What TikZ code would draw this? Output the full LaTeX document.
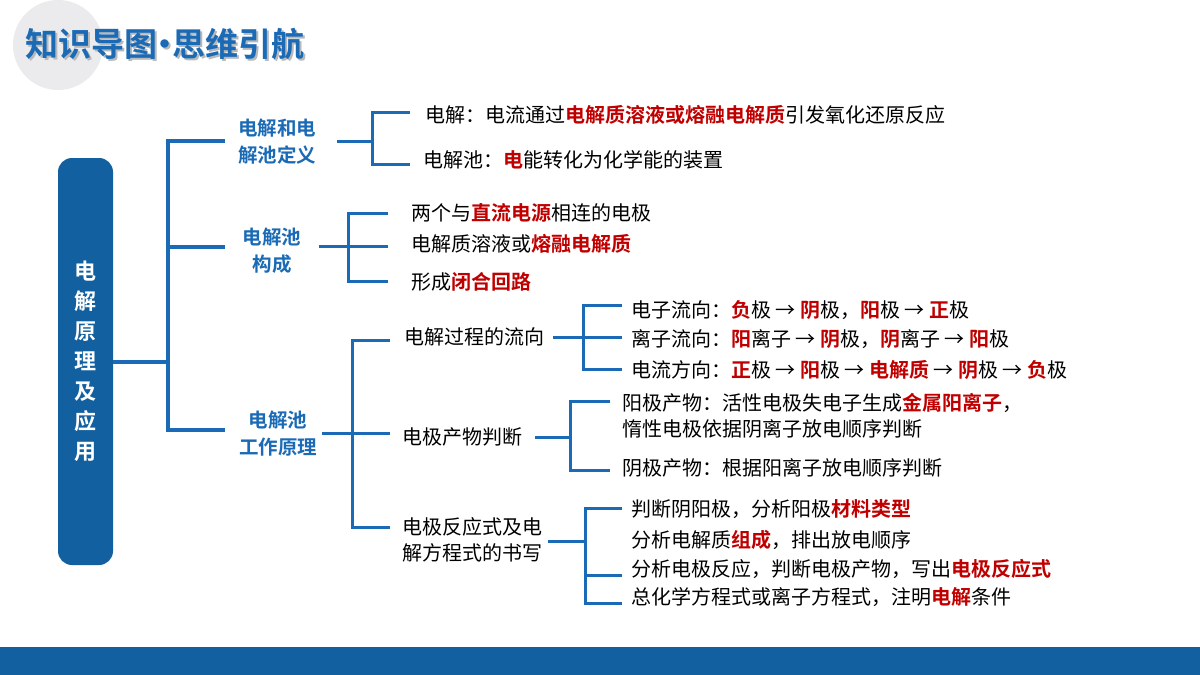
\documentclass[tikz,border=0pt]{standalone}
\usepackage{fontspec}
\setmainfont{Noto Sans CJK SC}
\newfontfamily\cjkb{Noto Sans CJK SC Bold}
\definecolor{lblue}{HTML}{1A6AB5}
\definecolor{dblue}{HTML}{12609F}
\definecolor{rr}{HTML}{C00000}
\newcommand{\R}[1]{{\cjkb\color{rr}#1}}
\newcommand{\ttl}{知识导图\kern-9pt·\kern-9pt思维引航}
\begin{document}
\begin{tikzpicture}[x=1pt,y=-1pt,
  ln/.style={draw=lblue,line width=3pt},
  lnb/.style={draw=lblue,line width=4pt},
  txt/.style={anchor=west,inner sep=0pt,font=\fontsize{20}{26}\selectfont,align=left},
  lab/.style={inner sep=0pt,font=\cjkb\fontsize{19.5}{27}\selectfont,text=lblue,align=center}]
\useasboundingbox (0,0) rectangle (1200,675);
\fill[white] (0,0) rectangle (1200,675);
\fill[blue!5!gray!15] (58,45) circle (45);
\node[anchor=west,inner sep=0pt,font=\cjkb\fontsize{33}{33}\selectfont,text=lblue] (title) at (25,45)
  {\rlap{\kern2.5pt\raisebox{-2.5pt}{\color{gray!55}\ttl}}\color{lblue}\ttl};
\fill[dblue] (0,647) rectangle (1200,675);
% main box
\node[fill=dblue,rounded corners=14pt,minimum width=55pt,minimum height=407pt,inner sep=0pt,
  text=white,font=\cjkb\fontsize{22}{30}\selectfont,align=center] (main) at (85.5,361.5)
  {电\\解\\原\\理\\及\\应\\用};
% main bracket
\draw[lnb] (main.east |- 0,362) -- (168,362);
\draw[lnb] (225,141) -- (168,141) -- (168,430) -- (225,430);
\draw[lnb] (168,247) -- (225,247);
\node[lab] (l1) at (277,142) {电解和电\\解池定义};
\node[lab] (l2) at (272,251) {电解池\\构成};
\node[lab] (l3) at (278,434) {电解池\\工作原理};
% bracket 1
\draw[ln] (337,141) -- (372,141);
\draw[ln] (410,112) -- (372,112) -- (372,164) -- (410,164);
\node[txt] (a1) at (425,115) {电解：电流通过\R{电解质溶液或熔融电解质}引发氧化还原反应};
\node[txt] (a2) at (423,160) {电解池：\R{电}能转化为化学能的装置};
% bracket 2
\draw[ln] (319,246) -- (388,246);
\draw[ln] (388,213) -- (348,213) -- (348,281) -- (388,281);
\node[txt] (b1) at (411,213) {两个与\R{直流电源}相连的电极};
\node[txt] (b2) at (411,244) {电解质溶液或\R{熔融电解质}};
\node[txt] (b3) at (411,282) {形成\R{闭合回路}};
% bracket 3
\draw[ln] (322,433) -- (390,433);
\draw[ln] (390,340) -- (352,340) -- (352,527) -- (390,527);
\node[txt] (c1) at (404,337) {电解过程的流向};
\node[txt] (c2) at (402,437) {电极产物判断};
\node[txt] (c3) at (402,540) {电极反应式及电\\解方程式的书写};
% sub A
\draw[ln] (553,337) -- (622,337);
\draw[ln] (622,305) -- (583,305) -- (583,369) -- (622,369);
\node[txt] (d1) at (631,310) {电子流向：\R{负}极 → \R{阴}极，\R{阳}极 → \R{正}极};
\node[txt] (d2) at (631,339) {离子流向：\R{阳}离子 → \R{阴}极，\R{阴}离子 → \R{阳}极};
\node[txt] (d3) at (631,370) {电流方向：\R{正}极 → \R{阳}极 → \R{电解质} → \R{阴}极 → \R{负}极};
% sub B
\draw[ln] (535,437) -- (570,437);
\draw[ln] (610,401) -- (570,401) -- (570,470) -- (610,470);
\node[txt] (e1) at (622,416) {阳极产物：活性电极失电子生成\R{金属阳离子}，\\惰性电极依据阴离子放电顺序判断};
\node[txt] (e2) at (622,468) {阴极产物：根据阳离子放电顺序判断};
% sub C
\draw[ln] (548,541) -- (585,541);
\draw[ln] (622,508) -- (585,508) -- (585,603) -- (622,603);
\draw[ln] (585,575) -- (622,575);
\node[txt] (f1) at (631,509) {判断阴阳极，分析阳极\R{材料类型}};
\node[txt] (f2) at (631,540) {分析电解质\R{组成}，排出放电顺序};
\node[txt] (f3) at (631,569) {分析电极反应，判断电极产物，写出\R{电极反应式}};
\node[txt] (f4) at (631,597) {总化学方程式或离子方程式，注明\R{电解}条件};
\end{tikzpicture}
\end{document}
